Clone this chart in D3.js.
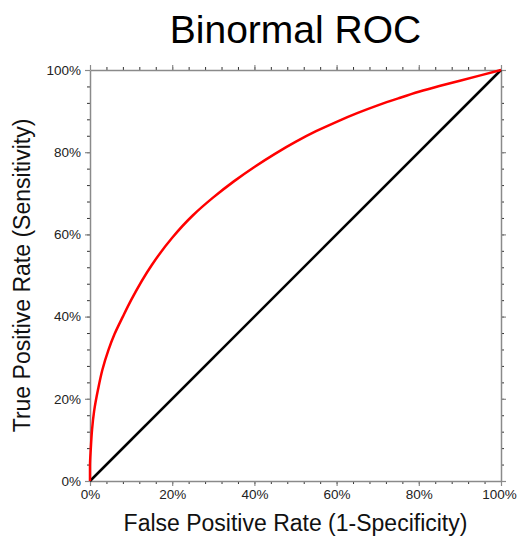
<!DOCTYPE html>
<html>
<head>
<meta charset="utf-8">
<script src="https://cdn.jsdelivr.net/npm/d3@7"></script>
<style>
  body { margin: 0; background: #fff; }
  svg text { font-family: "Liberation Sans", Arial, sans-serif; }
</style>
</head>
<body>
<script>
// ROC curve (percent)
const fpr = [0, 0, 0.2, 0.5, 1, 2, 3, 4.5, 6, 8, 10, 15, 20, 25, 30, 35, 40, 45, 50,
             55, 60, 65, 70, 75, 80, 85, 90, 95, 100]
const tpr = [0, 3.5, 8, 12.5, 17, 22.5, 27, 31.9, 35.8, 40.0, 44.0, 52.5, 59.2, 64.6, 69.0, 72.9, 76.4, 79.6, 82.5,
             85.1, 87.4, 89.5, 91.4, 93.1, 94.7, 96.1, 97.4, 98.7, 100]
const tickValues = [0, 20, 40, 60, 80, 100]
const minorTicks = d3.range(0, 101, 4)

const width = 517, height = 538
const margin = {left: 90, right: 16, top: 70, bottom: 57}

const svg = d3.select("body").append("svg")
  .attr("width", width)
  .attr("height", height)

const x = d3.scaleLinear().domain([0, 100]).range([margin.left, width - margin.right])
const y = d3.scaleLinear().domain([0, 100]).range([height - margin.bottom, margin.top])

const fmt = d => d + "%"
const frameColor = "#8a8a8a"

// axes, ticks outward on all four sides
const axes = [
  {ax: d3.axisBottom(x), tr: `translate(0,${y(0)})`, labels: true, pad: 3},
  {ax: d3.axisTop(x), tr: `translate(0,${y(100)})`, labels: false, pad: 3},
  {ax: d3.axisLeft(y), tr: `translate(${x(0)},0)`, labels: true, pad: 4},
  {ax: d3.axisRight(y), tr: `translate(${x(100)},0)`, labels: false, pad: 3}
]

axes.forEach(a => {
  // minor ticks
  svg.append("g").attr("transform", a.tr)
    .call(a.ax.tickValues(minorTicks).tickSize(3).tickFormat("").tickSizeOuter(0))
    .call(g => g.select(".domain").remove())
    .selectAll("line").attr("stroke", "#333").attr("stroke-width", 1)
  // major ticks
  const g = svg.append("g").attr("transform", a.tr)
    .call(a.ax.tickValues(tickValues).tickSize(5).tickSizeOuter(0).tickFormat(a.labels ? fmt : "").tickPadding(a.pad))
  g.select(".domain").attr("stroke", frameColor).attr("stroke-width", 1.5)
  g.selectAll(".tick line").attr("stroke", frameColor).attr("stroke-width", 1.2)
  g.selectAll("text").attr("font-size", 13.5).attr("fill", "#222")
    .style("font-family", '"Liberation Sans", Arial, sans-serif')
})

// keep the last x label inside the window
svg.selectAll("g").filter((d, i, n) => d3.select(n[i]).attr("transform") === `translate(0,${y(0)})`)
  .selectAll(".tick text").filter(d => d === 100).attr("dx", -2)

// chance diagonal
svg.append("line")
  .attr("x1", x(0)).attr("y1", y(0))
  .attr("x2", x(100)).attr("y2", y(100))
  .attr("stroke", "#000")
  .attr("stroke-width", 2.5)

// ROC curve
const pts = fpr.map((f, i) => [f, tpr[i]])
const line = d3.line()
  .x(d => x(d[0]))
  .y(d => y(d[1]))
  .curve(d3.curveMonotoneY)

svg.append("path")
  .datum(pts)
  .attr("d", line)
  .attr("fill", "none")
  .attr("stroke", "#ff0000")
  .attr("stroke-width", 2.5)

// title
svg.append("text")
  .attr("x", (x(0) + x(100)) / 2)
  .attr("y", 43)
  .attr("text-anchor", "middle")
  .attr("font-size", 39)
  .attr("fill", "#000")
  .text("Binormal ROC")

// axis titles
svg.append("text")
  .attr("x", (x(0) + x(100)) / 2)
  .attr("y", 531)
  .attr("text-anchor", "middle")
  .attr("font-size", 23)
  .attr("fill", "#111")
  .text("False Positive Rate (1-Specificity)")

svg.append("text")
  .attr("transform", `translate(30,${(y(0) + y(100)) / 2}) rotate(-90)`)
  .attr("text-anchor", "middle")
  .attr("font-size", 23)
  .attr("fill", "#111")
  .text("True Positive Rate (Sensitivity)")
</script>
</body>
</html>
